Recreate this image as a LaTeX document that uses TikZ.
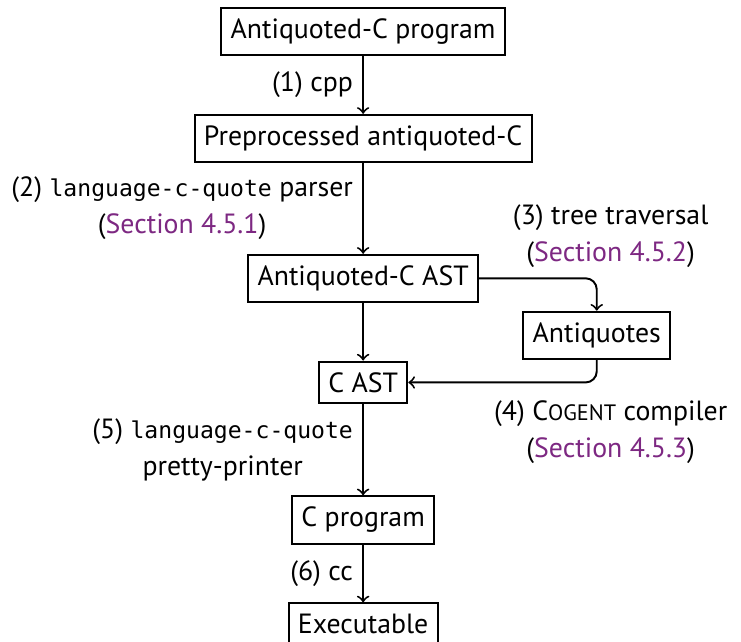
\documentclass[tikz,border=0pt]{standalone}
\usepackage{fontspec}
\setmainfont{PT Sans}
\setmonofont[Scale=0.83]{DejaVu Sans Mono}
\usepackage{xcolor}
\usetikzlibrary{positioning}
\definecolor{linkpurple}{RGB}{125,40,130}
\newcommand{\secref}[1]{(\textcolor{linkpurple}{Section~#1})}
\newcommand{\Cogent}{C{\fontsize{8pt}{9pt}\selectfont OGENT}}
\newcommand{\lcq}{\texttt{language-c-quote}}

\begin{document}
\begin{tikzpicture}[node distance=7.3mm, line width=0.7pt, every node/.style={font=\fontsize{10pt}{13.5pt}\selectfont}, box/.style={draw, rectangle, inner ysep=3.9pt}, lbl/.style={align=center}]
\useasboundingbox (-130.6pt,11.3pt) rectangle ++(266.5pt,-230.6pt);
\node[box] (src) at (0,0) {Antiquoted-C program};
\node[box, below=of src] (pre) {Preprocessed antiquoted-C};
\node[box, below=11.5mm of pre] (aast) {Antiquoted-C AST};
\node[box, below right=1mm and 5.5mm of aast] (aq) {Antiquotes};
\node[box, below=of aast] (cast) {C AST};
\node[box, below=11.5mm of cast] (cprog) {C program};
\node[box, below=of cprog] (exe) {Executable};
\draw[->] (src) -- node[left] {(1) cpp} (pre);
\draw[->] (pre) -- node[left, lbl] {(2) \lcq{} parser\\ \secref{4.5.1}} (aast);
\draw[->, rounded corners] (aast.east) -| node[pos=0.5, above, xshift=5pt, lbl] {(3) tree traversal\\ \secref{4.5.2}} (aq.north);
\draw[->] (aast) -- (cast);
\draw[->, rounded corners] (aq.south) |- node[pos=0.5, below, xshift=5pt, yshift=-1mm, lbl] {(4) \Cogent{} compiler\\ \secref{4.5.3}} (cast.east);
\draw[->] (cast) -- node[left, lbl] {(5) \lcq\\ pretty-printer} (cprog);
\draw[->] (cprog) -- node[left] {(6) cc} (exe);
\end{tikzpicture}
\end{document}
